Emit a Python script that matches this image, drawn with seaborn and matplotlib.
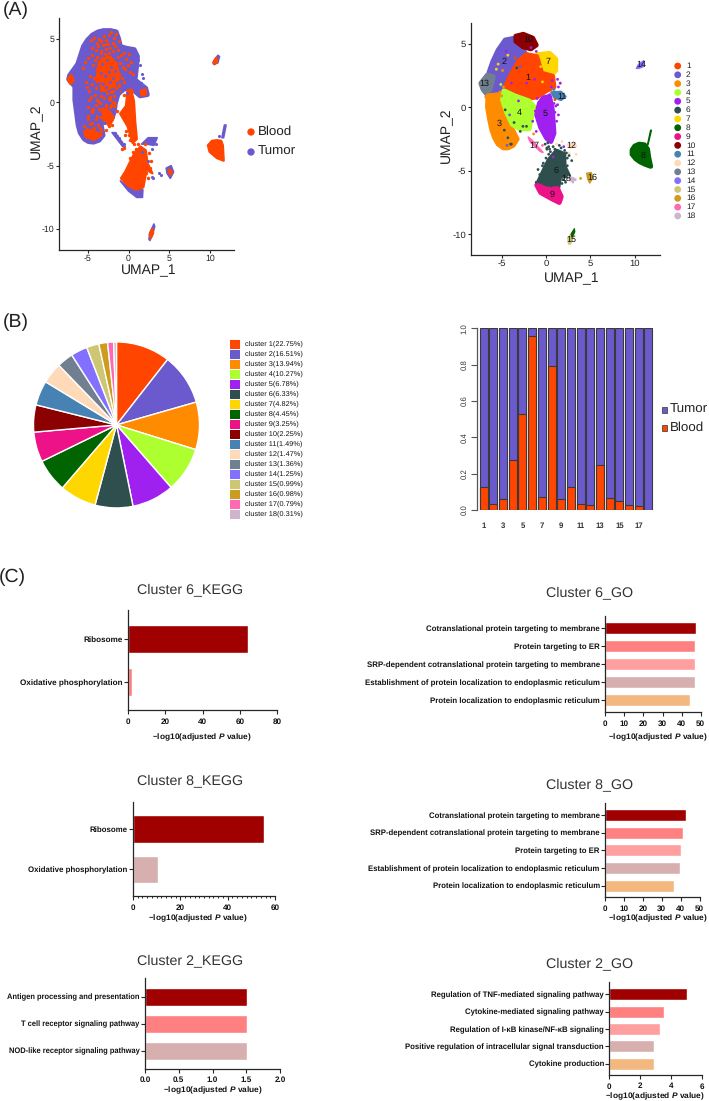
import matplotlib
matplotlib.use("Agg")
import matplotlib.pyplot as plt
from matplotlib.patches import Rectangle
from matplotlib.ticker import MultipleLocator
import seaborn as sns

W, H = 709, 1101

cluster_ids = [str(i) for i in range(1, 19)]
cluster_colors = ["#FF4500", "#6A5ACD", "#FF8C00", "#ADFF2F", "#A020F0", "#2F4F4F",
                  "#FFD700", "#006400", "#EE1289", "#8B0000", "#4682B4", "#FFDAB9",
                  "#708090", "#8470FF", "#CDC673", "#CD9B1D", "#FF69B4", "#CDB5CD"]
cluster_pct = ["22.75", "16.51", "13.94", "10.27", "6.78", "6.33", "4.82", "4.45", "3.25",
               "2.25", "1.49", "1.47", "1.36", "1.25", "0.99", "0.98", "0.79", "0.31"]
# slice widths as drawn in the picture (degrees), they do not follow the percentages
pie_degrees = [38, 36, 33.3, 31.6, 29.6, 26.5, 25.7, 23.3, 21, 19, 17.3, 14.7, 11.4, 11.6, 8.7, 6.1, 4.2, 2]

blood_share = [0.125, 0.035, 0.06, 0.275, 0.53, 0.96, 0.07, 0.79, 0.063, 0.125, 0.035, 0.03,
               0.25, 0.068, 0.047, 0.025, 0.02, 0.0]

# left UMAP, outlines
tumor_main = [(-6.7, 2.55), (-6.2, 3.0), (-5.8, 3.8), (-5.5, 4.4), (-5.0, 4.9), (-4.4, 5.3), (-3.7, 5.55), (-3.05, 5.65),
              (-2.2, 5.65), (-1.5, 5.55), (-1.2, 5.0), (-1.0, 4.4), (-0.2, 4.25), (0.7, 4.15), (1.1, 3.6), (0.95, 2.6),
              (0.8, 1.76), (1.5, 1.4), (2.1, 1.1), (2.3, 0.6), (1.42, 0.5), (0.7, 0.9), (0, 1.1), (-0.7, 1.0), (-1.3, 0.6),
              (-1.6, -0.1), (-1.75, -0.8), (-2.1, -1.4), (-2.8, -1.6), (-3.4, -1.6), (-3.2, -2.2), (-3.1, -2.6),
              (-3.6, -3.0), (-4.27, -3.15), (-4.9, -3.1), (-5.4, -2.9), (-5.9, -2.4), (-6.15, -1.8), (-6.35, -0.8),
              (-6.55, 0.18), (-6.55, 1.24), (-7.3, 1.8), (-7.2, 2.1)]
tumor_parts = [
    [(-1.0, -6.2), (-0.2, -6.6), (1.0, -6.9), (1.75, -6.9), (1.7, -7.5), (1.0, -7.5), (0, -7.0)],
    [(10.3, 3.1), (10.9, 3.7), (11.1, 3.6), (10.9, 3.1), (10.4, 3.0)],
    [(4.6, -5.2), (5.2, -5.0), (5.5, -5.5), (5.1, -6.0), (4.7, -5.6)],
    [(2.5, -10.8), (2.6, -10.3), (3.1, -9.6), (3.2, -9.8), (2.9, -10.5), (2.6, -10.9)],
    [(1.6, -3.3), (2.4, -2.8), (3.5, -2.8), (3.1, -3.4), (2.2, -3.3)],
    [(11.6, -2.8), (11.9, -1.8), (11.7, -1.8), (11.4, -2.8)],
    [(-2.0, -2.4), (-1.6, -2.4), (-0.4, -3.5), (-0.7, -3.5)],
]
blood_parts = [
    [(-0.3, -0.3), (-0.1, 0.9), (0.3, 1.0), (0.65, 0.1), (0.8, -1.5), (1.0, -2.9), (0.5, -3.2), (-0.1, -1.9), (-1.0, -0.9)],
    [(-0.4, -5.5), (0.6, -4.2), (1.45, -3.5), (2.1, -3.8), (2.3, -4.8), (2.9, -5.6), (2.2, -5.3), (1.8, -6.7),
     (1.0, -6.9), (0, -6.6), (-0.9, -6.0)],
    [(9.7, -3.4), (10.2, -3.05), (10.8, -3.0), (11.3, -3.05), (11.5, -3.4), (11.6, -4.6), (10.8, -4.4), (9.9, -3.9)],
    [(-7.4, 1.8), (-7.0, 2.15), (-6.7, 1.7), (-7.1, 1.45)],
    [(-3.2, -0.5), (-2.4, -0.7), (-1.8, -1.2), (-2.2, -1.7), (-3.0, -1.4)],
    [(-5.4, -2.3), (-4.4, -2.2), (-3.3, -2.6), (-4.2, -2.95), (-5.2, -2.75)],
    [(1.5, 0.9), (2.1, 1.0), (2.1, 0.6), (1.6, 0.55)],
    [(-3.6, 3.2), (-2.5, 3.6), (-1.5, 3.1), (-1.1, 2.0), (-1.6, 1.3), (-3.0, 0.9), (-3.9, 1.7)],
    [(10.4, 3.2), (10.7, 3.5), (10.8, 3.2), (10.5, 3.0)],
    [(4.9, -5.3), (5.3, -5.5), (5.1, -5.7)],
    [(2.6, -10.4), (2.9, -10.0), (3.0, -10.3), (2.7, -10.7)],
]
blood_x = [-4.6, -4.2, -3.9, -3.6, -3.3, -3.0, -2.7, -2.4, -2.1, -1.8, -1.5, -1.2, -0.9, -0.6, -0.3, 0.0, 0.3,
           -4.4, -4.0, -3.7, -3.4, -3.1, -2.8, -2.5, -2.2, -1.9, -1.6, -1.3, -1.0, -0.7, -0.4, -0.1, 0.2, 0.5,
           -4.9, -4.5, -4.1, -3.8, -3.5, -3.2, -2.9, -2.6, -2.3, -2.0, -1.7, -1.4, -1.1, -0.8, -0.5,
           -4.3, -3.9, -3.5, -3.2, -2.9, -2.6, -2.3, -2.0, -1.7, -1.4, -1.1,
           -4.7, -4.2, -3.8, -3.4, -3.0, -2.7, -2.4, -2.1, -1.8, -1.5, -0.9, -0.5,
           -5.1, -4.8, -4.4, -4.0, -3.6, -3.3, -2.9, -2.5, -2.1, -1.8,
           -4.6, -4.1, -3.8, -3.4, -3.0, -2.6, -2.3, -1.9, -2.7, -2.3, -1.8, -1.4,
           -5.0, -4.5, -4.0, -3.6, -3.2, -2.8, -2.4, -2.0, -3.4, -3.0, -2.5, -4.9, -4.4, -3.9,
           -5.4, -5.1, -4.7, -4.2, -3.7, -3.3, -2.8, -4.6, -4.0, -3.5,
           -2.9, -2.4, -1.9, -1.5, -2.6, -2.1, -1.6,
           -5.3, -5.6, -5.2, -4.8, -4.5, -5.0, -4.3, -3.7, -3.1, -3.5, -2.2, -1.7, -1.2, -1.9, -2.8, -3.3, -2.4, -1.3,
           0.9, 1.2, 2.5, 2.7, 2.3, 1.9, 2.1, 2.6, 2.4, -0.3, 0.1, 0.4, 0.7, 0.9, 0.5, 0.2, 0.4, -0.4, 1.3, 1.6, 2.0,
           -0.8, -0.6, 0.2, 1.0, 1.5]
blood_y = [4.9, 5.1, 4.7, 5.0, 4.8, 5.2, 4.9, 5.3, 5.5, 5.1, 5.4, 4.8, 3.7, 3.9, 3.4, 3.8, 3.2,
           4.3, 4.1, 4.4, 4.0, 4.5, 4.2, 4.6, 4.3, 4.0, 4.4, 3.6, 3.1, 2.8, 2.6, 2.9, 2.4, 2.2,
           3.5, 3.7, 3.3, 3.6, 3.1, 3.5, 3.8, 3.3, 3.6, 3.4, 3.0, 2.7, 2.2, 1.9, 1.6,
           2.9, 2.6, 2.8, 2.4, 3.0, 2.6, 2.9, 2.5, 2.2, 1.9, 1.4,
           2.1, 1.9, 2.2, 1.8, 2.3, 1.9, 2.2, 1.8, 1.5, 1.1, 0.9, 0.6,
           1.2, 0.9, 1.4, 1.1, 1.5, 1.0, 1.4, 1.1, 0.8, 0.5,
           0.4, 0.6, 0.2, 0.5, 0.3, 0.7, 0.2, 0.0, -0.2, -0.4, -0.3, -0.7,
           -0.4, -0.6, -0.2, -0.5, -0.7, -0.4, -1.9, -1.8, -1.2, -1.4, -1.7, -1.3, -1.6, -1.1,
           -1.9, -2.1, -1.7, -2.0, -1.8, -2.3, -2.2, -2.8, -1.3, -2.0,
           1.0, 0.3, 0.9, 1.6, -0.9, -0.2, -0.1,
           3.2, 2.7, 1.6, 0.2, -0.8, -1.1, -0.5, 0.1, -0.9, -0.1, 0.4, 1.4, 1.3, 4.7, 4.6, 3.9, 3.9, 4.1,
           -3.7, -3.3, -4.0, -4.6, -5.0, -5.2, -5.6, -5.2, -6.0, -2.3, -2.6, -2.9, -3.3, -3.8, -3.9, -4.4, 0.9, -2.6,
           -4.1, -4.6, -3.3, -3.7, -3.6, -3.0, -5.0, -6.1]
tumor_dots_x = [1.8, 1.5, 1.3, -1.7, -1.4, -1.1, -0.9, -0.6, 3.3, 2.9, 3.7, 11.0, 11.5, 4.0, 2.9, 3.0, 1.7, 2.4,
                -3.2, -2.6, -2.1, -1.7, -3.4, -2.9, -2.4, -1.9, -3.6, -3.1, -2.7, -2.2, -1.4,
                -5.8, -6.2, -6.0, -5.7, -5.5, -5.8, -5.9, 1.4, 1.6, 1.2, 1.5, -0.8, -0.5, -0.2]
tumor_dots_y = [1.9, 1.5, 1.2, -2.4, -2.7, -2.8, -3.1, -3.3, -3.3, -3.7, -5.6, -2.7, -2.4, -5.7, -5.9, -6.0, -3.9, -4.6,
                3.0, 3.3, 2.8, 2.5, 2.3, 2.1, 2.4, 1.9, 1.5, 1.4, 1.2, 1.6, 1.5,
                -0.5, 1.0, 2.4, 3.9, 1.2, -1.5, 0.7, 2.9, 2.2, 3.3, 1.5, 0.9, 1.2, 0.7]

# right UMAP, one outline per cluster
cluster_shapes = {
    "2": [(-6.7, 1.89), (-6.4, 2.8), (-6.0, 3.6), (-5.4, 4.5), (-4.6, 5.3), (-3.5, 5.45), (-2.3, 4.2), (-2.93, 3.73),
          (-4.06, 2.68), (-4.81, 1.36), (-5.94, 1.0), (-6.55, 1.36)],
    "13": [(-7.35, 1.89), (-6.6, 2.55), (-5.94, 2.41), (-6.32, 1.36), (-6.7, 1.05), (-7.1, 1.4)],
    "10": [(-3.4, 5.6), (-2.56, 5.75), (-1.5, 5.45), (-1.1, 4.9), (-1.7, 4.6), (-2.56, 4.75), (-3.4, 5.2)],
    "7": [(-0.95, 4.15), (0.4, 4.25), (1.1, 3.8), (1.1, 2.9), (0.4, 2.4), (-0.3, 2.55), (-0.8, 3.46)],
    "1": [(-3.95, 2.55), (-3.1, 3.6), (-2.2, 4.15), (-1.05, 4.0), (-0.49, 2.68), (0.75, 2.45), (0.9, 1.6),
          (0.08, 1.33), (-1.05, 0.8), (-2.56, 0.7), (-3.8, 1.2), (-4.5, 1.7)],
    "11": [(0.55, 1.2), (1.7, 1.25), (2.25, 0.84), (1.7, 0.55), (0.9, 0.75)],
    "3": [(-6.55, 0.9), (-5.25, 1.0), (-4.7, -0.47), (-3.95, -1.52), (-3.25, -2.5), (-3.7, -3.0), (-4.3, -3.2), (-4.8, -3.2),
          (-5.4, -2.9), (-5.8, -2.4), (-6.1, -1.8), (-6.35, -1.0), (-6.6, 0.05)],
    "4": [(-4.75, 1.3), (-3.5, 0.9), (-1.9, 0.5), (-1.35, 0.05), (-1.9, -1.7), (-2.95, -1.7), (-3.8, -1.35),
          (-4.4, -0.47), (-4.9, 0.58)],
    "5": [(-0.3, 0.75), (0.4, 0.85), (0.72, -0.21), (0.9, -2.05), (0.55, -2.7), (0.08, -2.45), (-0.6, -1.6),
          (-1.05, -0.6), (-0.75, 0.31)],
    "6": [(1.2, -3.45), (2.0, -3.7), (2.05, -4.67), (2.55, -5.4), (1.55, -5.4), (1.3, -6.5), (0.08, -6.4),
          (-0.95, -6.05), (-0.2, -4.93), (0.35, -4.15)],
    "9": [(-1.05, -6.12), (0.08, -6.45), (1.3, -6.4), (1.72, -7.03), (1.5, -7.5), (0.64, -7.2), (-0.6, -6.72)],
    "8": [(9.7, -3.36), (10.0, -3.05), (10.5, -2.9), (11.1, -2.95), (11.45, -3.3), (11.6, -4.0), (11.8, -4.65),
          (11.2, -4.5), (10.6, -4.3), (10.1, -4.05), (9.7, -3.7)],
    "14": [(10.2, 3.07), (10.45, 3.38), (11.0, 3.65), (10.93, 3.2), (10.45, 3.07)],
    "12": [(2.4, -2.97), (3.3, -2.82), (3.4, -3.08), (2.75, -3.2)],
    "16": [(4.6, -5.2), (5.1, -5.15), (5.25, -5.59), (4.93, -5.95), (4.72, -5.65)],
    "15": [(2.48, -10.25), (2.89, -10.1), (3.2, -9.75), (3.1, -10.2), (2.75, -10.75), (2.55, -10.75)],
    "17": [(-2.0, -2.35), (-1.62, -2.57), (-0.35, -3.55), (-0.68, -3.45), (-1.8, -2.7)],
    "18": [(2.4, -5.4), (3.2, -5.6), (3.05, -5.95), (2.75, -5.72)],
}
tail8_shape = [(11.5, -2.97), (11.9, -1.8), (11.78, -1.8), (11.42, -2.97)]
tail15_shape = [(2.8, -10.0), (3.2, -9.55), (3.25, -9.8), (2.95, -10.2)]

stray_x = [-5.4, -4.9, -4.3, -3.8, -3.3, -5.1, -5.6, -4.5, -3.9, -3.4, -4.6, -4.1, -3.6, -3.1, -2.6, -2.2, -1.3, -0.6,
           -1.7, -1.1, -0.4, -1.4, -2.2, -2.9, -4.7, -4.3, -3.9, -4.4, -4.0, 0.5, 0.9, 1.2, 1.6, 0.7, 0.6, 1.0, 1.3,
           2.0, 1.8, 0.3, 0.1, 0.6, 0.9, 2.6, 3.4, 3.3, 1.9, 2.4, 3.9, -0.4, 0.4, 0.8, -3.5, -2.9,
           -0.5, -1.1, -0.9, -0.3, 0.0, 0.3, 1.4, 1.7, 2.1, 2.3, 2.6, 2.9, 2.4, 1.9, -0.7, -0.4, 0.1, 1.8, 2.2,
           1.2, 1.4, 1.0, 0.8, 1.1, 0.5, -0.1, 0.2, 1.5,
           -6.8, -6.4, -5.2, -4.8, -5.0, -2.0, -1.6, -1.0, 1.4, 1.6, 1.3, 0.4, 0.9, 1.1, 1.0, 0.3, -1.0, -0.9, -0.6,
           -3.4, -3.2, -3.0, -2.7, -1.2, -1.5, -1.1, 1.2, 1.4, 1.5, 0.9]
stray_y = [3.4, 2.9, 4.1, 2.7, 3.1, 1.8, 3.0, 4.4, 1.9, 1.5, -0.2, -0.6, -1.2, 0.5, -1.5, 1.9, 2.2, 3.2,
           4.7, 4.4, 2.0, -2.1, -1.5, -1.9, -1.8, -2.4, -2.9, -3.0, -2.9, -2.2, -1.4, -2.9, 1.9, 2.1, 1.6, 0.6, 0.2,
           -3.1, -2.7, -3.1, -3.3, -6.2, -4.9, -3.6, -3.7, -5.7, -4.3, -4.0, -5.6, -3.0, -3.3, -3.9, 3.9, 3.2,
           -5.6, -5.9, -4.9, -4.4, -4.0, -3.7, -3.5, -3.2, -3.4, -3.6, -3.8, -4.2, -4.6, -5.7, -5.3, -4.6, -3.2, -6.0, -5.9,
           -6.0, -5.7, -3.3, -3.1, -5.9, -3.5, -2.9, -2.8, -3.0,
           0.8, 0.6, 1.2, 1.6, 0.9, 0.4, 0.3, 0.7, 1.6, 1.9, 2.2, 1.0, 0.3, 0.1, -0.4, 0.9, 0.0, -0.7, -1.3,
           -0.8, -1.2, -1.0, -0.4, -0.3, -1.1, -1.9, -1.1, -0.6, 0.9, 1.4]
stray_cluster = ["7", "3", "7", "1", "6", "4", "7", "5", "5", "1", "6", "2", "6", "5", "6", "5", "5", "7",
                 "5", "5", "7", "3", "6", "6", "6", "6", "6", "2", "6", "5", "5", "12", "3", "5", "5", "1", "5",
                 "5", "12", "6", "6", "6", "6", "12", "12", "18", "6", "6", "16", "17", "6", "5", "1", "2",
                 "6", "6", "6", "6", "6", "6", "6", "6", "6", "6", "6", "6", "6", "6", "6", "6", "6", "6", "6",
                 "6", "6", "6", "6", "6", "6", "6", "6", "6",
                 "3", "3", "3", "3", "3", "4", "4", "5", "5", "5", "5", "5", "5", "5", "5", "5", "5", "5", "5",
                 "4", "4", "4", "4", "5", "5", "5", "5", "5", "11", "11"]

cluster_label_x = [-2.0, -4.7, -5.3, -3.0, -0.05, 1.1, 0.2, 10.9, 0.64, -2.0, 1.75, 2.8, -7.0, 10.7, 2.85, 5.2, -1.3, 2.3]
cluster_label_y = [2.36, 3.6, -1.25, -0.42, -0.52, -5.0, 3.6, -3.8, -6.85, 5.3, 0.8, -3.05, 1.85, 3.35, -10.4, -5.55, -3.0, -5.6]

# enrichment bars
dark, coral, pink, mauve, tan = "#A00000", "#FF8080", "#FF9F9F", "#D8AFAF", "#F2B87F"
go_colors = [dark, coral, pink, mauve, tan]

kegg6_terms = ["Ribosome", "Oxidative phosphorylation"]
kegg6_values = [64.5, 2.1]
kegg8_terms = ["Ribosome", "Oxidative phosphorylation"]
kegg8_values = [55.2, 10.4]
kegg2_terms = ["Antigen processing and presentation", "T cell receptor signaling pathway",
               "NOD-like receptor signaling pathway"]
kegg2_values = [1.51, 1.51, 1.51]
go6_terms = ["Cotranslational protein targeting to membrane", "Protein targeting to ER",
             "SRP-dependent cotranslational protein targeting to membrane",
             "Establishment of protein localization to endoplasmic reticulum",
             "Protein localization to endoplasmic reticulum"]
go6_values = [47.7, 47.2, 47.2, 47.0, 44.6]
go8_terms = ["Cotranslational protein targeting to membrane",
             "SRP-dependent cotranslational protein targeting to membrane", "Protein targeting to ER",
             "Establishment of protein localization to endoplasmic reticulum",
             "Protein localization to endoplasmic reticulum"]
go8_values = [42.8, 41.2, 40.1, 39.8, 36.6]
go2_terms = ["Regulation of TNF-mediated signaling pathway", "Cytokine-mediated signaling pathway",
             "Regulation of I-κB kinase/NF-κB signaling", "Positive regulation of intracellular signal transduction",
             "Cytokine production"]
go2_values = [5.07, 3.53, 3.31, 2.92, 2.92]

sns.set_theme(style="white")
plt.rcParams["font.family"] = ["Liberation Sans", "DejaVu Sans"]
plt.rcParams["mathtext.fontset"] = "custom"
plt.rcParams["mathtext.bfit"] = "Liberation Sans:italic:bold"
plt.rcParams["axes.linewidth"] = 0.9
plt.rcParams["axes.unicode_minus"] = False
plt.rcParams["text.hinting"] = "no_hinting"

fig = plt.figure(figsize=(W / 100, H / 100), dpi=100)


def px_axes(left, top, right, bottom):
    return fig.add_axes([left / W, 1 - bottom / H, (right - left) / W, (bottom - top) / H])


def px_text(x, y, s, **kw):
    kw.setdefault("ha", "center")
    kw.setdefault("va", "center")
    fig.text(x / W, 1 - y / H, s, **kw)


def blob(ax, shape, color, lw=3.5):
    xs = [p[0] for p in shape]
    ys = [p[1] for p in shape]
    ax.fill(xs, ys, color=color, lw=lw, joinstyle="round", zorder=2)


def umap_frame(ax, xlim, ylim, fs):
    ax.set_xlim(*xlim)
    ax.set_ylim(*ylim)
    ax.set_xticks([-5, 0, 5, 10])
    ax.set_yticks([-10, -5, 0, 5])
    ax.tick_params(length=2, width=0.8, labelsize=fs, pad=1.5, labelcolor="#222222", left=True, bottom=True)
    ax.set_xlabel("")
    ax.set_ylabel("")
    sns.despine(ax=ax)


# (A) left
ax = px_axes(59, 18, 234, 250)
blob(ax, tumor_main, cluster_colors[1])
for part in tumor_parts:
    blob(ax, part, cluster_colors[1], lw=1.2)
for part in blood_parts:
    blob(ax, part, cluster_colors[0], lw=1.8)
sns.scatterplot(x=blood_x, y=blood_y, color=cluster_colors[0], s=6, linewidth=0, ax=ax, zorder=3)
sns.scatterplot(x=tumor_dots_x, y=tumor_dots_y, color=cluster_colors[1], s=5, linewidth=0, ax=ax, zorder=3)
umap_frame(ax, (-8.48, 12.87), (-11.65, 6.64), 6.3)
px_text(149, 270.5, "UMAP_1", fontsize=10, color="#222222")
px_text(36.5, 131.5, "UMAP_2", fontsize=10, rotation=90, color="#222222")

legend_ax = px_axes(245, 122, 300, 162)
legend_ax.axis("off")
legend_ax.set_xlim(245, 300)
legend_ax.set_ylim(162, 122)
sns.scatterplot(x=[251, 251], y=[132, 152], hue=["Blood", "Tumor"], palette=cluster_colors[:2],
                s=28, linewidth=0, legend=False, ax=legend_ax)
px_text(258, 132, "Blood", fontsize=9.6, ha="left", color="#222222")
px_text(258, 152, "Tumor", fontsize=9.6, ha="left", color="#222222")

# (A) right
ax = px_axes(470.7, 22.7, 660, 255)
for cid, shape in cluster_shapes.items():
    thin = cid in ("12", "14", "15", "16", "17", "18", "11")
    blob(ax, shape, cluster_colors[cluster_ids.index(cid)], lw=1.2 if thin else 3.5)
blob(ax, tail8_shape, cluster_colors[7], lw=0.8)
blob(ax, tail15_shape, cluster_colors[7], lw=0.8)
sns.scatterplot(x=stray_x, y=stray_y, hue=stray_cluster, hue_order=cluster_ids, palette=cluster_colors,
                s=4, linewidth=0, legend=False, ax=ax, zorder=3)
for cid, lx, ly in zip(cluster_ids, cluster_label_x, cluster_label_y):
    ax.text(lx, ly, cid, fontsize=6.5, ha="center", va="center", color="#111111", zorder=4)
umap_frame(ax, (-8.49, 12.85), (-11.63, 6.66), 6.8)
px_text(571.7, 279, "UMAP_1", fontsize=10, color="#222222")
px_text(446.7, 135.5, "UMAP_2", fontsize=10, rotation=90, color="#222222")

legend_ax = px_axes(672, 60, 709, 222)
legend_ax.axis("off")
legend_ax.set_xlim(672, 709)
legend_ax.set_ylim(222, 60)
row_y = [66 + 8.82 * i for i in range(18)]
sns.scatterplot(x=[677.7] * 18, y=row_y, hue=cluster_ids, palette=cluster_colors, s=24, linewidth=0,
                legend=False, ax=legend_ax)
for cid, ry in zip(cluster_ids, row_y):
    px_text(686, ry, cid, fontsize=6, ha="left", color="#222222")

# (B) pie
ax = px_axes(30, 338, 203, 511)
ax.pie(pie_degrees, colors=cluster_colors, startangle=90, counterclock=False, radius=83 / 86.5)
ax.set_xlim(-1, 1)
ax.set_ylim(-0.995, 1.005)
for i, (col, pct) in enumerate(zip(cluster_colors, cluster_pct)):
    fig.add_artist(Rectangle((230 / W, 1 - (349.3 + 10 * i) / H), 9.7 / W, 9.7 / H, color=col,
                             transform=fig.transFigure, lw=0))
    px_text(245, 344.2 + 10 * i, f"cluster {i + 1}({pct}%)", fontsize=5.3, ha="left", color="#111111")

# (B) stacked bars
ax = px_axes(476.7, 328.3, 654, 510)
tumor_col, blood_col = cluster_colors[1], cluster_colors[0]
sns.barplot(x=cluster_ids, y=[1.0] * 18, color=tumor_col, saturation=1, width=0.83,
            edgecolor="#3a3a3a", linewidth=0.8, ax=ax)
sns.barplot(x=cluster_ids, y=blood_share, color=blood_col, saturation=1, width=0.83,
            edgecolor="#3a3a3a", linewidth=0.8, ax=ax)
ax.set_xlim(-0.72, 17.57)
ax.set_ylim(0, 1)
ax.set_xlabel("")
ax.set_ylabel("")
ax.set_xticks(range(0, 18, 2))
ax.set_xticklabels(cluster_ids[::2])
ax.set_yticks([0, 0.2, 0.4, 0.6, 0.8, 1.0])
ax.tick_params(axis="y", length=4.5, width=0.8, color="#555555", labelsize=5.6, pad=1.5, labelcolor="#333333", left=True)
ax.tick_params(axis="x", length=0, labelsize=5.6, pad=9, labelcolor="#333333")
for lab in ax.get_yticklabels():
    lab.set_rotation(90)
    lab.set_va("center")
for lab in ax.get_xticklabels():
    lab.set_fontweight("bold")
sns.despine(ax=ax, bottom=True)
ax.spines["left"].set_color("#555555")
for name, col, ry in zip(["Tumor", "Blood"], [tumor_col, blood_col], [410, 428]):
    fig.add_artist(Rectangle((662 / W, 1 - (ry + 2.7) / H), 5.4 / W, 5.4 / H, facecolor=col, edgecolor="#333333",
                             lw=0.5, transform=fig.transFigure))
    px_text(669.5, ry, name, fontsize=9.6, ha="left", color="#222222")


def enrichment(terms, values, colors, title, box, centers, bar_px, xmax, step, minor, title_xy, label_xy, fs=5.7):
    left, top, right, bottom = box
    ax = px_axes(left, top, right, bottom)
    sns.barplot(x=values, y=terms, hue=terms, palette=colors, saturation=1, legend=False, orient="h",
                width=bar_px / centers[1], ax=ax)
    ax.set_xlim(0, xmax)
    ax.set_ylim((bottom - centers[0]) / centers[1], (top - centers[0]) / centers[1])
    ax.set_xticks([step * i for i in range(int(round(xmax / step)) + 1)])
    if minor:
        ax.xaxis.set_minor_locator(MultipleLocator(minor))
    if step == 0.5:
        ax.set_xticklabels([f"{step * i:.1f}" for i in range(int(round(xmax / step)) + 1)])
    ax.tick_params(axis="y", which="major", length=3, width=0.8, labelsize=fs, pad=0.8, left=True,
                   labelcolor="#111111")
    ax.tick_params(axis="x", which="major", length=3, width=0.8, labelsize=5.9, pad=2.5, bottom=True,
                   labelcolor="#111111")
    ax.tick_params(axis="x", which="minor", length=1.6, width=0.7, bottom=True)
    for lab in ax.get_xticklabels() + ax.get_yticklabels():
        lab.set_fontweight("bold")
    ax.set_xlabel("")
    ax.set_ylabel("")
    sns.despine(ax=ax)
    px_text(title_xy[0], title_xy[1], title, fontsize=10.3, color="#333333")
    px_text(label_xy[0], label_xy[1], r"−log10(adjusted $\mathbfit{P}$ value)", fontsize=6, fontweight="bold",
            color="#111111")


# (C)
enrichment(kegg6_terms, kegg6_values, [dark, coral], "Cluster 6_KEGG", (127.7, 610, 277.3, 710.3), (639.2, 43), 28.5,
           80, 20, None, (190, 589.3), (201.7, 737.3), fs=5.85)
enrichment(kegg8_terms, kegg8_values, [dark, mauve], "Cluster 8_KEGG", (133, 801.7, 275, 896), (829, 40.2), 27.3,
           60, 20, 2, (190, 781), (197.7, 918.3), fs=5.7)
enrichment(kegg2_terms, kegg2_values, [dark, coral, mauve], "Cluster 2_KEGG", (145, 978.3, 280, 1068.7), (996.7, 27), 18,
           2, 0.5, None, (190, 960.7), (213.3, 1090.7), fs=5.45)
enrichment(go6_terms, go6_values, go_colors, "Cluster 6_GO", (605.3, 616, 700.7, 712.3), (628.3, 18), 12,
           50, 10, None, (589.3, 592.7), (657.7, 737.3))
enrichment(go8_terms, go8_values, go_colors, "Cluster 8_GO", (605, 802.7, 699.7, 897.3), (815, 17.7), 12,
           50, 10, None, (589.3, 784.3), (657.7, 918.3), fs=5.55)
enrichment(go2_terms, go2_values, go_colors, "Cluster 2_GO", (609.3, 982.3, 701.7, 1075), (994.3, 17.35), 12,
           6, 2, None, (589.3, 964), (655, 1096), fs=5.55)

px_text(3, 10, "(A)", fontsize=14, ha="left", color="#222222")
px_text(3, 322, "(B)", fontsize=14, ha="left", color="#222222")
px_text(-1, 577, "(C)", fontsize=14, ha="left", color="#222222")

fig.savefig("out.png", dpi=100)
plt.close(fig)
